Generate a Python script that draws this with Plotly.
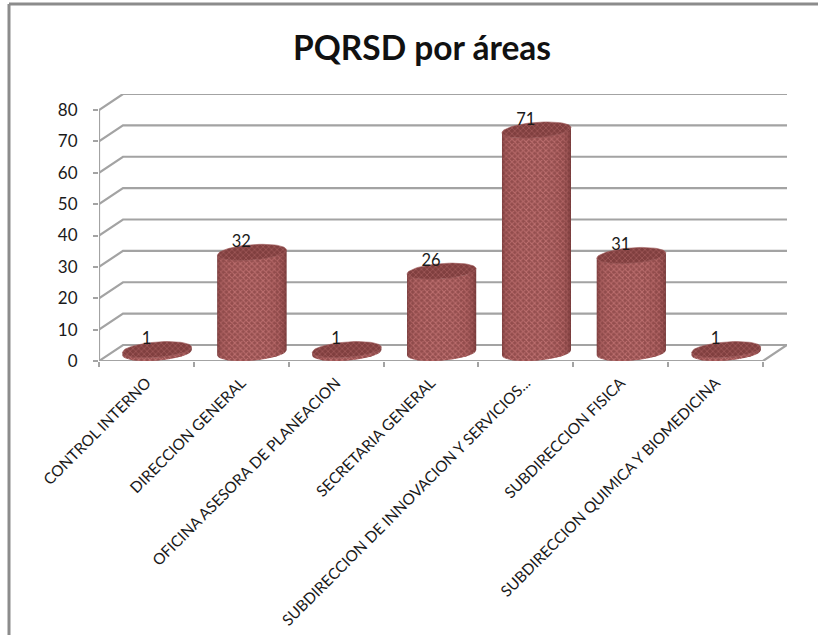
import numpy as np
import plotly.graph_objects as go

# PQRSD counts per area
categories = [
    "CONTROL INTERNO",
    "DIRECCION GENERAL",
    "OFICINA ASESORA DE PLANEACION",
    "SECRETARIA GENERAL",
    "SUBDIRECCION DE INNOVACION Y SERVICIOS...",
    "SUBDIRECCION FISICA",
    "SUBDIRECCION QUIMICA Y BIOMEDICINA",
]
values = [1, 32, 1, 26, 71, 31, 1]
y_ticks = [0, 10, 20, 30, 40, 50, 60, 70, 80]

GRID = "#a3a3a3"
TEXT = "#1a1a1a"
FONT = "Lato"

# Oblique depth of the 3D box, in axis units
DEPTH_X = 0.253
DEPTH_Y = 5.1
# Cylinder shape in axis units
RADIUS_X = 0.345
HALF_DEPTH_X = 0.115
HALF_DEPTH_Y = 2.6
CENTER_SHIFT = 0.112

n = len(categories)
fig = go.Figure()


def line_trace(xs, ys):
    fig.add_trace(go.Scatter(x=xs, y=ys, mode="lines", cliponaxis=False,
                             line=dict(color=GRID, width=2.2),
                             hoverinfo="skip", showlegend=False))


# Back wall lines with their side-wall connectors
xs, ys = [], []
for v in y_ticks:
    xs += [0, DEPTH_X, n + DEPTH_X, None]
    ys += [v, v + DEPTH_Y, v + DEPTH_Y, None]
# Front axis lines and the floor's right edge
xs += [0, 0, None, 0, n, n + DEPTH_X, None]
ys += [y_ticks[0], y_ticks[-1], None, 0, 0, DEPTH_Y, None]
line_trace(xs, ys)


def rim(cx, level, angles):
    px = cx + RADIUS_X * np.cos(angles) + HALF_DEPTH_X * np.sin(angles)
    py = level + HALF_DEPTH_Y + HALF_DEPTH_Y * np.sin(angles)
    return px, py


# Visible side of each cylinder runs between the two silhouette tangents
theta0 = np.arctan(HALF_DEPTH_X / RADIUS_X)
strip_edges = np.linspace(theta0 + np.pi, theta0 + 2 * np.pi, 17)
strip_colors = [
    ("#703636", "#965252"), ("#844242", "#b86a6a"), ("#8e4a4a", "#cf7c7c"),
    ("#914c4c", "#dc8686"), ("#934d4d", "#e28c8c"), ("#944e4e", "#e69090"),
    ("#954f4f", "#e89292"), ("#954f4f", "#e99393"), ("#954f4f", "#e99393"),
    ("#954f4f", "#e89292"), ("#944e4e", "#e48e8e"), ("#924c4c", "#de8888"),
    ("#8f4a4a", "#d48080"), ("#884545", "#c27272"), ("#7e3e3e", "#aa5e5e"),
    ("#6e3535", "#8f4e4e"),
]


def polygons_side(th1, th2):
    px_all, py_all = [], []
    for i, v in enumerate(values):
        cx = i + 0.5 + CENTER_SHIFT
        arc = np.linspace(th1, th2, 5)
        top_x, top_y = rim(cx, v, arc)
        low_x, low_y = rim(cx, 0, arc[::-1])
        px_all += list(top_x) + list(low_x) + [None]
        py_all += list(top_y) + list(low_y) + [None]
    return px_all, py_all


# Solid silhouette under the strips so no seams show through
px, py = polygons_side(strip_edges[0], strip_edges[-1])
fig.add_trace(go.Scatter(x=px, y=py, mode="lines", fill="toself", fillcolor="#8a4646",
                         line=dict(width=0), cliponaxis=False,
                         hoverinfo="skip", showlegend=False))

for k, (bg, fg) in enumerate(strip_colors):
    px, py = polygons_side(strip_edges[k], strip_edges[k + 1])
    fig.add_trace(go.Scatter(
        x=px, y=py, mode="lines", fill="toself", fillcolor=bg,
        fillpattern=dict(shape="x", size=4, solidity=0.42, fgcolor=fg, bgcolor=bg),
        line=dict(width=0), cliponaxis=False, hoverinfo="skip", showlegend=False))

# Top caps
cap_angles = np.linspace(0, 2 * np.pi, 61)
cap_x, cap_y = [], []
for i, v in enumerate(values):
    cx_arr, cy_arr = rim(i + 0.5 + CENTER_SHIFT, v, cap_angles)
    cap_x += list(cx_arr) + [None]
    cap_y += list(cy_arr) + [None]
fig.add_trace(go.Scatter(
    x=cap_x, y=cap_y, mode="lines", fill="toself", fillcolor="#803f3f",
    fillpattern=dict(shape="x", size=4, solidity=0.4, fgcolor="#b86c6c", bgcolor="#803f3f"),
    line=dict(width=0.6, color="#a05c5c"), cliponaxis=False,
    hoverinfo="skip", showlegend=False))

# Value labels
fig.add_trace(go.Scatter(
    x=[i + 0.5 for i in range(n)], y=[v + 3.0 for v in values],
    mode="text", text=[str(v) for v in values], textposition="top center",
    textfont=dict(family=FONT, size=16.5, color=TEXT), cliponaxis=False,
    hoverinfo="skip", showlegend=False))

fig.update_layout(
    width=818, height=635,
    margin=dict(l=99, r=31, t=94, b=274, autoexpand=False),
    paper_bgcolor="white", plot_bgcolor="white",
    showlegend=False,
    title=dict(text="<b>PQRSD por áreas</b>", x=422 / 818, xanchor="center",
               y=1 - 48 / 635, yanchor="middle",
               font=dict(family=FONT, size=33.5, color="#111111")),
    xaxis=dict(
        range=[0, n + DEPTH_X], showgrid=False, zeroline=False, showline=False,
        automargin=False,
        tickmode="array", tickvals=[i + 0.5 for i in range(n)], ticktext=categories,
        tickangle=-45, ticks="", ticklen=0, ticklabelstandoff=9,
        tickfont=dict(family=FONT, size=15.4, color=TEXT),
        minor=dict(tickmode="array", tickvals=list(range(n + 1)), ticks="outside",
                   ticklen=5, tickwidth=2, tickcolor=GRID, showgrid=False),
    ),
    yaxis=dict(
        range=[0, 80 + DEPTH_Y], showgrid=False, zeroline=False, showline=False,
        automargin=False,
        tickmode="array", tickvals=y_ticks, ticks="outside", ticklen=5, tickwidth=2,
        tickcolor=GRID, ticklabelstandoff=12,
        tickfont=dict(family=FONT, size=17, color=TEXT),
    ),
    shapes=[
        # Chart frame: only its top and left edges fall inside the view
        dict(type="line", xref="paper", yref="paper",
             x0=-90 / 688, x1=719 / 688, y0=1 + 90 / 267, y1=1 + 90 / 267,
             line=dict(color="#8c8c8c", width=3)),
        dict(type="line", xref="paper", yref="paper",
             x0=-90 / 688, x1=-90 / 688, y0=1 + 90 / 267, y1=-274 / 267,
             line=dict(color="#8c8c8c", width=3)),
    ],
)

fig.write_html("out.html")
